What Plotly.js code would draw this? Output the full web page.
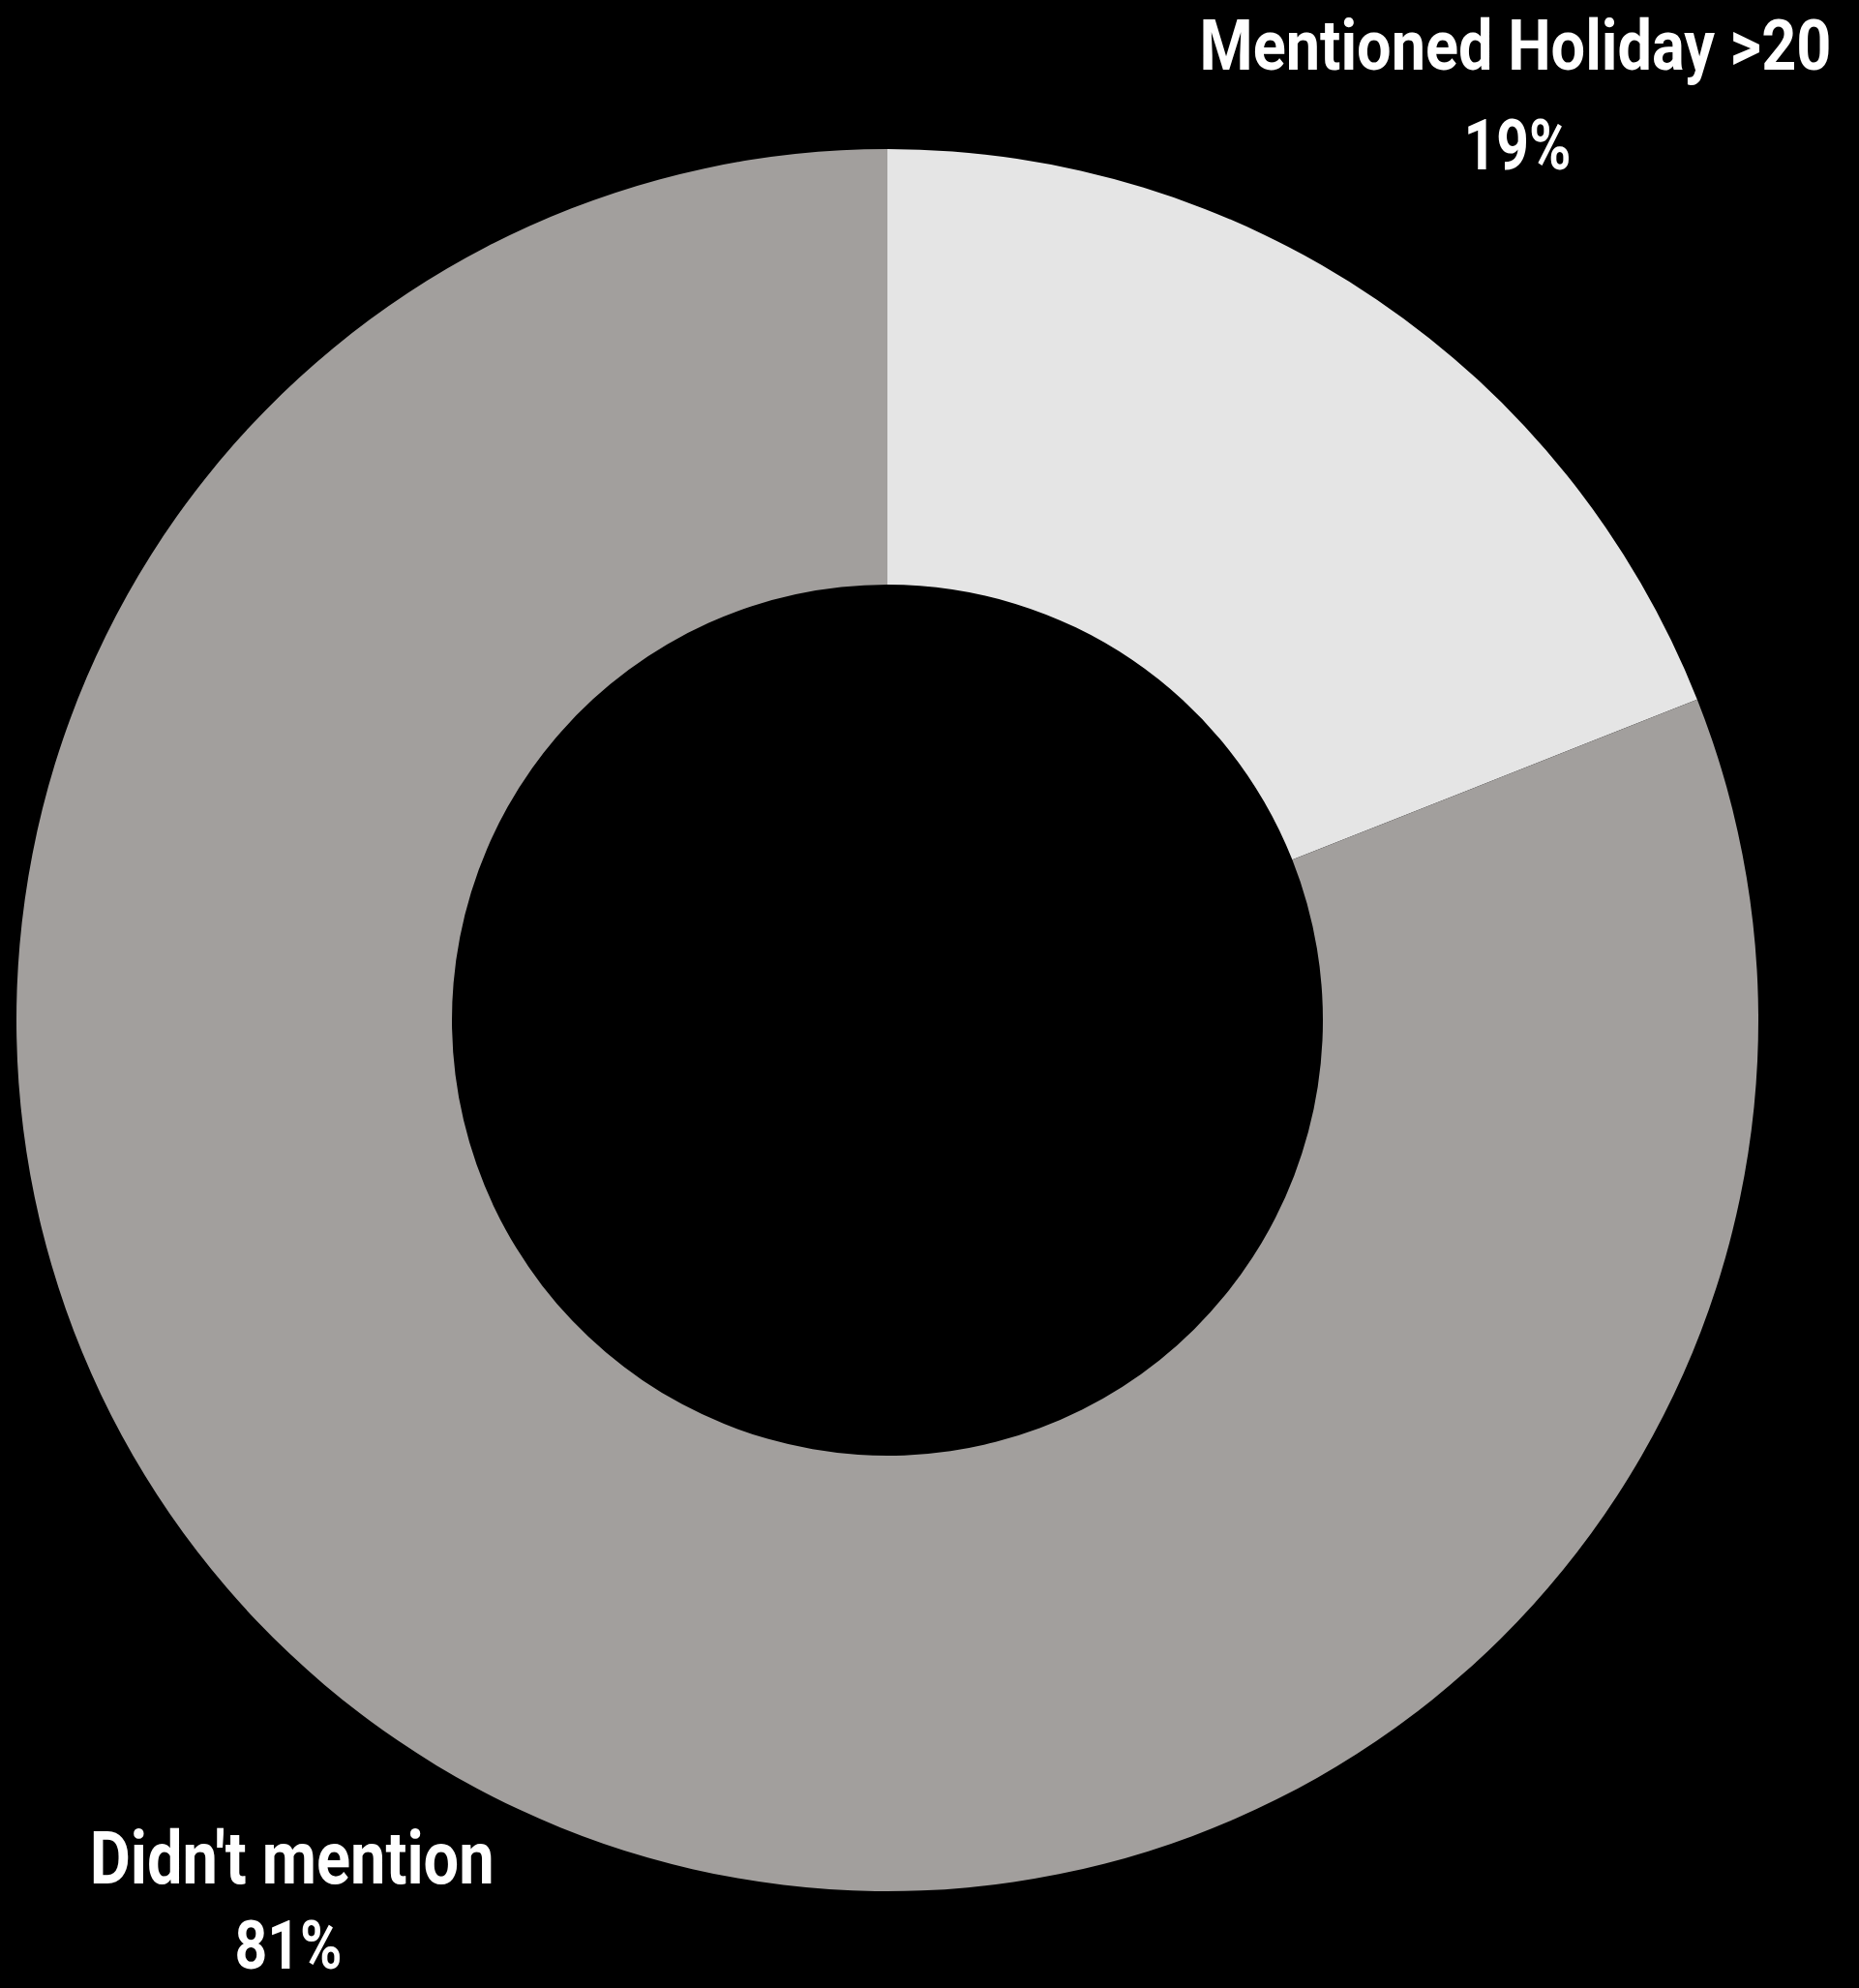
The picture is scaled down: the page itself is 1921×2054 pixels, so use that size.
<!DOCTYPE html>
<html>
<head>
<meta charset="utf-8">
<script src="https://cdn.plot.ly/plotly-3.0.1.min.js"></script>
<style>html,body{margin:0;padding:0;background:#000;}</style>
</head>
<body>
<div id="chart" style="width:1921px;height:2054px;"></div>
<script>
const categories = ["Mentioned Holiday >20", "Didn't mention"];
const values = [19, 81];
const colors = ["#e5e5e5", "#a29f9d"];

const W = 1921, H = 2054;
const cx = 917, cy = 1054, R = 900;

const fam = "Roboto, 'DejaVu Sans Condensed', sans-serif";
const total = values.reduce((a, b) => a + b, 0);

// label line layout: center x, center y, font size, target drawn width
const labelLines = [
  [{x: 1566, y: 47, size: 72, w: 653}, {x: 1568, y: 150, size: 72, w: 111}],
  [{x: 301, y: 1920, size: 76, w: 418}, {x: 298, y: 2010, size: 70, w: 111}]
];

const annotations = [];
const targetWidths = [];
categories.forEach((c, i) => {
  const texts = [c, Math.round(values[i] / total * 100) + "%"];
  texts.forEach((t, j) => {
    const p = labelLines[i][j];
    annotations.push({
      text: "<b>" + t + "</b>",
      x: p.x / W, y: 1 - p.y / H,
      xref: "paper", yref: "paper",
      xanchor: "center", yanchor: "middle",
      showarrow: false,
      font: {family: fam, size: p.size, color: "#ffffff"},
      align: "center"
    });
    targetWidths.push(p.w);
  });
});

const data = [{
  type: "pie",
  labels: categories,
  values: values,
  hole: 0.5,
  sort: false,
  direction: "clockwise",
  rotation: 0,
  marker: {colors: colors, line: {width: 0}},
  textinfo: "none",
  hoverinfo: "label+percent",
  domain: {x: [(cx - R) / W, (cx + R) / W], y: [(H - cy - R) / H, (H - cy + R) / H]}
}];

const layout = {
  width: W, height: H,
  margin: {l: 0, r: 0, t: 0, b: 0},
  paper_bgcolor: "#000000",
  plot_bgcolor: "#000000",
  showlegend: false,
  annotations: annotations
};

Plotly.newPlot("chart", data, layout, {displayModeBar: false, staticPlot: true}).then(() => {
  const els = document.querySelectorAll("#chart .annotation-text");
  els.forEach((el, k) => {
    const target = targetWidths[k];
    if (!target) return;
    const bb = el.getBBox();
    if (!bb.width) return;
    const s = target / bb.width;
    const c = bb.x + bb.width / 2;
    const existing = el.getAttribute("transform") || "";
    el.setAttribute("transform", (existing + " translate(" + c + ",0) scale(" + s + ",1) translate(" + (-c) + ",0)").trim());
  });
});
</script>
</body>
</html>
